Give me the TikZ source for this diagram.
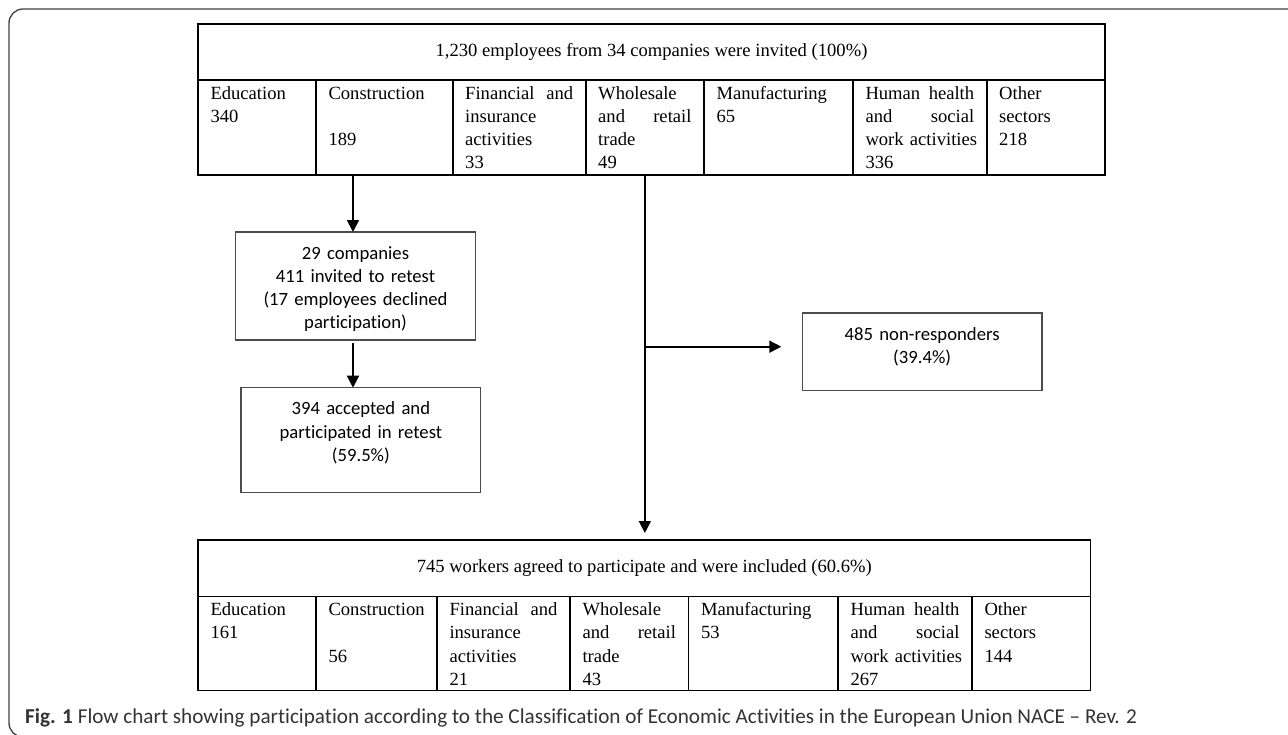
\documentclass[tikz,border=0pt]{standalone}
\usepackage{fontspec}
\setmainfont{Liberation Serif}
\newfontfamily\boxfont[Ligatures=NoCommon]{Carlito}
\usetikzlibrary{arrows.meta, positioning}

\tikzset{
  cell/.style={draw, line width=1.8pt, anchor=north west, outer sep=0pt,
    inner xsep=12.5pt, inner ysep=0pt, align=left, text height=19pt,
    font=\fontsize{18.6}{23.3}\selectfont},
  headcell/.style={draw, line width=1.8pt, anchor=north west, outer sep=0pt,
    inner sep=0pt, font=\fontsize{18.6}{23.3}\selectfont},
  flowbox/.style={draw=black!70, line width=1.2pt, anchor=north west, outer sep=0pt,
    inner xsep=6pt, inner ysep=0pt, align=center, text height=27pt,
    font=\boxfont\fontsize{18.7}{23.3}\selectfont},
  flowarrow/.style={line width=1.8pt, -{Triangle[length=12pt, width=12pt]}}
}

\begin{document}
\begin{tikzpicture}[x=1pt, y=-1pt]
  \useasboundingbox (0,0) rectangle (1288,734);
  \clip (0,0) rectangle (1288,734);
  % frame
  \draw[black!75, line width=1.3pt, rounded corners=14pt] (1300,9) -- (9,9) -- (9,737) -- (60,737);

  % invited employees
  \node[headcell, minimum width=907pt, minimum height=56pt] (invited) at (198,24)
    {1,230 employees from 34 companies were invited (100\%)};
  \foreach \x/\tw/\txt [count=\i] in {
      198/93/{Education\\340},
      316/111.7/{Construction\\[\baselineskip]189},
      452.7/108/{Financial\hfill and\\insurance\\activities\\33},
      585.7/93.3/{Wholesale\\and\hfill retail\\trade\\49},
      704/124/{Manufacturing\\65},
      853/108.7/{Human\hfill health\\and\hfill social\\\mbox{work activities}\\336},
      986.7/93.3/{Other\\sectors\\218}}
    \node[cell, text width=\tw pt, text depth=76pt] (inv\i) at (\x,80) {\txt};

  % included workers
  \node[headcell, minimum width=892.5pt, minimum height=56.5pt] (included) at (198,540)
    {745 workers agreed to participate and were included (60.6\%)};
  \foreach \x/\tw/\txt [count=\i] in {
      198/93/{Education\\161},
      316/96/{Construction\\[\baselineskip]56},
      437/108/{Financial\hfill and\\insurance\\activities\\21},
      570/93.5/{Wholesale\\and\hfill retail\\trade\\43},
      688.5/124.5/{Manufacturing\\53},
      838/109/{Human\hfill health\\and\hfill social\\\mbox{work activities}\\267},
      972/93.5/{Other\\sectors\\144}}
    \node[cell, text width=\tw pt, text depth=75pt] (inc\i) at (\x,596.5) {\txt};

  % retest and non-responders
  \node[flowbox, text width=227.6pt, text depth=81pt] (retest) at (235.7,232)
    {29 companies\\411 invited to retest\\(17 employees declined\\participation)};
  \node[flowbox, text width=227.7pt, text depth=77.6pt] (accepted) at (241,387.7)
    {394 accepted and\\participated in retest\\(59.5\%)};
  \node[flowbox, text width=227.7pt, text depth=50.3pt] (nonresp) at (802.3,313)
    {485 non-responders\\(39.4\%)};

  % connectors
  \draw[flowarrow] ([xshift=-2.5pt]retest.north |- inv2.south) -- ([xshift=-2.5pt]retest.north);
  \draw[flowarrow] ([xshift=-2.5pt, yshift=-3pt]retest.south) -- ([xshift=-2.5pt]retest.south |- accepted.north);
  \coordinate (split) at (inv4.south |- 0,346.7);
  \draw[line width=1.8pt] (inv4.south) -- (split);
  \draw[flowarrow, shorten >=7pt] (split) -- (split |- included.north);
  \draw[flowarrow, shorten >=21pt] (split) -- (split -| nonresp.west);

  % caption
  \node[anchor=base west, inner sep=0pt, text=black!80,
    font=\boxfont\fontsize{21.2}{26}\selectfont] (caption) at (25,723.5)
    {\textbf{Fig. 1} Flow chart showing participation according to the Classification of Economic Activities in the European Union NACE – Rev. 2};
\end{tikzpicture}
\end{document}
